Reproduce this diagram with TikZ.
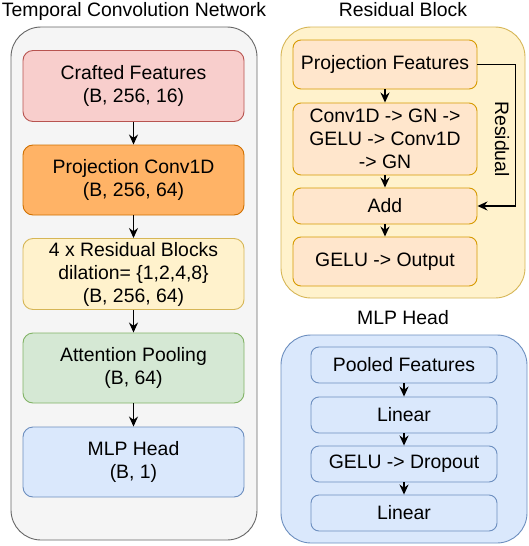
\documentclass[tikz,border=0pt]{standalone}
\usepackage{fontspec}
\setmainfont{Liberation Sans}
\usetikzlibrary{arrows.meta}

\definecolor{grayfill}{HTML}{F5F5F5}
\definecolor{grayline}{HTML}{666666}
\definecolor{redfill}{HTML}{F8CECC}
\definecolor{redline}{HTML}{B85450}
\definecolor{orangefill}{HTML}{FFB366}
\definecolor{orangeline}{HTML}{D07000}
\definecolor{yellowfill}{HTML}{FFF2CC}
\definecolor{yellowline}{HTML}{D6B656}
\definecolor{greenfill}{HTML}{D5E8D4}
\definecolor{greenline}{HTML}{82B366}
\definecolor{bluefill}{HTML}{DAE8FC}
\definecolor{blueline}{HTML}{6C8EBF}
\definecolor{peachfill}{HTML}{FFE6CC}
\definecolor{peachline}{HTML}{D79B00}

\begin{document}
\begin{tikzpicture}[x=1pt, y=-1pt,
		font=\fontsize{19.4}{23}\selectfont,
		panel/.style={rectangle, draw, rounded corners=30pt, line width=0.9pt, inner sep=0pt},
		blk/.style={rectangle, draw, rounded corners=10pt, line width=0.9pt, align=center, inner sep=0pt},
		arr/.style={-{Stealth[length=10pt, width=9pt]}, line width=1.5pt}]
		\useasboundingbox (0, 0) rectangle (528, 546);

		% Temporal Convolution Network
		\draw 
		(134, 11) node (tcnttl) {Temporal Convolution Network}
		(134, 283.5) node [panel, fill=grayfill, draw=grayline, minimum width=246, minimum height=513] (tcn) {}
		(133.5, 86) node [blk, fill=redfill, draw=redline, minimum width=221, minimum height=71] (crafted) {Crafted Features\\(B, 256, 16)}
		(133.5, 180) node [blk, fill=orangefill, draw=orangeline, minimum width=221, minimum height=70] (projconv) {Projection Conv1D\\(B, 256, 64)}
		(133.5, 274) node [blk, fill=yellowfill, draw=yellowline, minimum width=221, minimum height=71] (resblocks) {4 x Residual Blocks\\dilation= \{1,2,4,8\}\\(B, 256, 64)}
		(133.5, 368) node [blk, fill=greenfill, draw=greenline, minimum width=221, minimum height=70] (attnpool) {Attention Pooling\\(B, 64)}
		(133.5, 462) node [blk, fill=bluefill, draw=blueline, minimum width=221, minimum height=70] (mlphead) {MLP Head\\(B, 1)};
		\draw[arr] (crafted) -- (projconv);
		\draw[arr] (projconv) -- (resblocks);
		\draw[arr] (resblocks) -- (attnpool);
		\draw[arr] (attnpool) -- (mlphead);

		% Residual Block
		\draw 
		(403, 10) node (resttl) {Residual Block}
		(403, 162.5) node [panel, fill=yellowfill, draw=yellowline, minimum width=244, minimum height=271] (resblk) {}
		(385, 64.5) node [blk, fill=peachfill, draw=peachline, rounded corners=8pt, minimum width=184, minimum height=49] (projfeat) {Projection Features}
		(385, 139) node [blk, fill=peachfill, draw=peachline, rounded corners=8pt, minimum width=184, minimum height=72] (convgn) {Conv1D -> GN ->\\GELU -> Conv1D\\-> GN}
		(385, 206) node [blk, fill=peachfill, draw=peachline, rounded corners=8pt, minimum width=184, minimum height=36] (add) {Add}
		(385, 261.5) node [blk, fill=peachfill, draw=peachline, rounded corners=8pt, minimum width=184, minimum height=49] (geluout) {GELU -> Output};
		\draw[arr] (projfeat) -- (convgn);
		\draw[arr] (convgn) -- (add);
		\draw[arr] (add) -- (geluout);
		\draw[arr] (projfeat.east) -- ++(38, 0) |- (add.east);
		\draw (502, 139) node [rotate=-90] (reslbl) {Residual};

		% MLP Head
		\draw 
		(403, 318) node (mlpttl) {MLP Head}
		(404, 439) node [panel, fill=bluefill, draw=blueline, minimum width=246, minimum height=208] (mlp) {}
		(404, 365) node [blk, fill=bluefill, draw=blueline, rounded corners=8pt, minimum width=186, minimum height=36] (pooled) {Pooled Features}
		(404, 415) node [blk, fill=bluefill, draw=blueline, rounded corners=8pt, minimum width=186, minimum height=36] (linear1) {Linear}
		(404, 464) node [blk, fill=bluefill, draw=blueline, rounded corners=8pt, minimum width=186, minimum height=36] (geludrop) {GELU -> Dropout}
		(404, 513) node [blk, fill=bluefill, draw=blueline, rounded corners=8pt, minimum width=186, minimum height=36] (linear2) {Linear};
		\draw[arr] (pooled) -- (linear1);
		\draw[arr] (linear1) -- (geludrop);
		\draw[arr] (geludrop) -- (linear2);
	\end{tikzpicture}
\end{document}
